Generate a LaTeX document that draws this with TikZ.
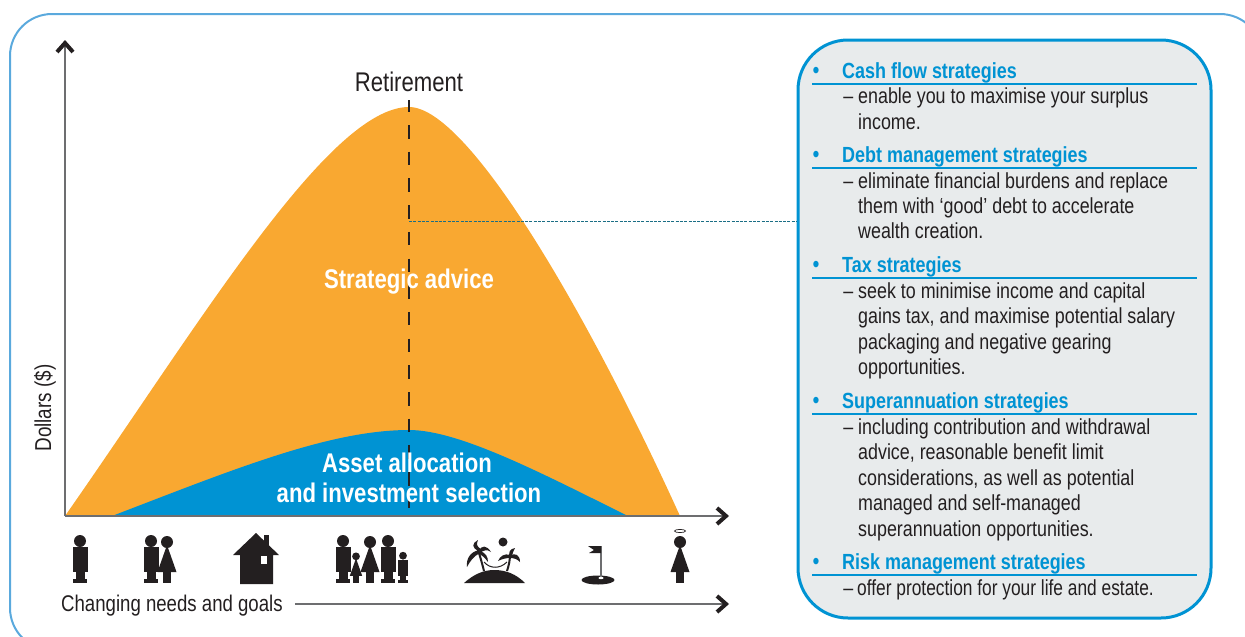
\documentclass[tikz,border=0pt]{standalone}
\usepackage{fontspec}
\setmainfont[FakeStretch=0.82]{Liberation Sans}
\usetikzlibrary{arrows.meta}
\definecolor{orangefill}{HTML}{F9A831}
\definecolor{bluefill}{HTML}{0093D3}
\definecolor{framecol}{HTML}{5AA9DD}
\definecolor{panelfill}{HTML}{E8EBEC}
\definecolor{ink}{HTML}{231F20}
\definecolor{axisgrey}{HTML}{6D6E70}
\definecolor{tealdash}{HTML}{1B6E85}
\tikzset{
  axisline/.style={draw=axisgrey,line width=1.6pt,-{Straight Barb[color=ink,length=9pt,width=16pt,line width=4pt]}},
  bodytxt/.style={anchor=north west,inner sep=0pt,align=left,font=\fontsize{21.8}{25.5}\selectfont,text=ink},
  headtxt/.style={anchor=base west,inner sep=0pt,font=\fontsize{21.9}{25}\selectfont\bfseries,text=bluefill},
  bullettxt/.style={anchor=center,inner sep=0pt,font=\fontsize{24}{25}\selectfont,text=bluefill},
  rulecol/.style={draw=bluefill,line width=1.6pt},
  labeltxt/.style={inner sep=0pt,font=\fontsize{27}{30}\selectfont,text=ink},
  whitetxt/.style={inner sep=0pt,font=\fontsize{27}{30}\selectfont\bfseries,text=white},
  malefig/.pic={
    \fill[ink] (0,-42) circle (6);
    \fill[ink] (-7.5,-36) rectangle (7.5,-11);
    \fill[ink] (-4.5,-11) rectangle (4.5,-4);
    \fill[ink] (-7,-4) rectangle (7,0);
  },
  femalefig/.pic={
    \fill[ink] (0,-41) circle (6);
    \fill[ink] (0,-38) -- (9.5,-11) -- (-9.5,-11) -- cycle;
    \fill[ink] (-4,-11) rectangle (4,0);
  }
}
\begin{document}
\begin{tikzpicture}[x=1pt,y=-1pt]
\useasboundingbox (0,0) rectangle (1245,637);
\begin{scope}
\clip (0,0) rectangle (1245,637);
\draw[framecol,line width=2pt,rounded corners=42pt] (10,14) rectangle (1262,650);
\end{scope}
% curves
\fill[orangefill] (65,516) .. controls (200,323) and (329,107) .. (409,107) .. controls (469,107) and (590,318) .. (680,516) -- cycle;
\fill[bluefill] (112,516) .. controls (232,470) and (329,430) .. (409,430) .. controls (460,430) and (545,475) .. (628,516) -- cycle;
% axes
\coordinate (origin) at (65,516);
\coordinate (xend) at (729,516);
\coordinate (yend) at (65,40);
\draw[axisline] (origin) -- (xend);
\draw[axisline] (origin) -- (yend);
% panel
\node[draw=bluefill,fill=panelfill,line width=3pt,rounded corners=50pt,minimum width=413pt,minimum height=578pt,inner sep=0pt] (panel) at (1004.5,329) {};
% retirement
\node[labeltxt] (retire) at (409,82) {Retirement};
\coordinate (peak) at (409,100);
\coordinate (dashend) at (409,508);
\draw[ink,line width=1.1pt,dash pattern=on 13.5pt off 13.2pt,dash phase=1.7pt] (peak) -- (dashend);
\coordinate (branch) at (409,221);
\coordinate (panelhit) at (panel.west |- branch);
\draw[tealdash,line width=1pt,dash pattern=on 3pt off 1.3pt] (branch) -- (panelhit);
\node[whitetxt] (strategic) at (409,281.5) {Strategic advice};
\node[whitetxt] (assetone) at (407,463) {Asset allocation};
\node[whitetxt] (assettwo) at (409,493) {and investment selection};
\node[labeltxt,rotate=90,font=\fontsize{23}{26}\selectfont] (dollars) at (45,408) {Dollars (\$)};
% icons
\pic (m1) at (80,583) {malefig};
\pic (m2) at (151,583) {malefig};
\pic (f2) at (167,583) {femalefig};
\fill[ink] (256,533) -- (279,555) -- (273,555) -- (273,584) -- (240,584) -- (240,555) -- (233,555) -- cycle;
\fill[ink] (264,535) rectangle (269,550);
\fill[white] (260.5,556) rectangle (267,564);
\pic (m3) at (343,583) {malefig};
\pic[scale=.65] (c1) at (356,583) {femalefig};
\pic (f3) at (370,583) {femalefig};
\pic (m4) at (388,583) {malefig};
\pic[scale=.65] (c2) at (403,583) {malefig};
% island
\fill[ink] (464,583) .. controls (474,574) and (484,570) .. (494,570) .. controls (506,570) and (516,574) .. (525,583) -- cycle;
\fill[ink] (503,542) circle (4.5);
\draw[ink,line width=2pt] (484,571) .. controls (482,563) and (480,556) .. (478,550);
\draw[ink,line width=2pt] (507,571) .. controls (509,565) and (510,560) .. (510,554);
\draw[ink,line width=1pt] (484,562) .. controls (490,569) and (500,569) .. (507,562);
\fill[ink] (479,551) .. controls (471,548) and (472,543) .. (478,540) .. controls (476,544) and (477,547) .. (481,549) -- cycle;
\fill[ink] (479,551) .. controls (481,545) and (487,545) .. (491,552) .. controls (487,549) and (484,550) .. (480,553) -- cycle;
\fill[ink] (479,550) .. controls (470,552) and (466,559) .. (467,567) .. controls (470,561) and (474,556) .. (480,553) -- cycle;
\fill[ink] (480,551) .. controls (486,553) and (488,557) .. (488,562) .. controls (485,558) and (482,555) .. (479,554) -- cycle;
\fill[ink] (510,556) .. controls (508,552) and (510,549) .. (515,548) .. controls (513,551) and (513,553) .. (512,556) -- cycle;
\fill[ink] (510,556) .. controls (515,552) and (520,555) .. (520,562) .. controls (517,559) and (514,558) .. (510,558) -- cycle;
\fill[ink] (510,555) .. controls (505,553) and (500,556) .. (498,561) .. controls (502,559) and (506,558) .. (510,558) -- cycle;
% golf
\fill[ink] (598,580) ellipse (16.5 and 4.5);
\draw[axisgrey,line width=1.2pt] (601,578) -- (601,546);
\fill[ink] (601,546) -- (588,546) -- (594,550) -- (589,553) -- (601,553) -- cycle;
\fill[white] (601,578) ellipse (2.5 and 1.2);
% angel
\pic (f4) at (680,583) {femalefig};
\draw[ink,line width=.7pt] (680,531) ellipse (5.5 and 1.6);
% lower axis
\node[labeltxt,anchor=base west,font=\fontsize{22.7}{26}\selectfont] (needs) at (61,611) {Changing needs and goals};
\coordinate (lowend) at (729,604);
\draw[axisline] (needs.east |- lowend) ++(12,0) coordinate (lowstart) -- (lowend);
% panel text
\node[bullettxt] (b1) at (816,73) {•};
\node[headtxt] (h1) at (842,78) {Cash flow strategies};
\draw[rulecol] (812,84) -- (1197,84);
\node[bodytxt] (t1) at (858,88) {\llap{–\hspace{5pt}}enable you to maximise your surplus\\income.};
\node[bullettxt] (b2) at (816,157) {•};
\node[headtxt] (h2) at (842,162) {Debt management strategies};
\draw[rulecol] (812,168) -- (1197,168);
\node[bodytxt] (t2) at (858,172) {\llap{–\hspace{5pt}}eliminate financial burdens and replace\\them with ‘good’ debt to accelerate\\wealth creation.};
\node[bullettxt] (b3) at (816,267) {•};
\node[headtxt] (h3) at (842,272) {Tax strategies};
\draw[rulecol] (812,278) -- (1197,278);
\node[bodytxt] (t3) at (858,282) {\llap{–\hspace{5pt}}seek to minimise income and capital\\gains tax, and maximise potential salary\\packaging and negative gearing\\opportunities.};
\node[bullettxt] (b4) at (816,403) {•};
\node[headtxt] (h4) at (842,408) {Superannuation strategies};
\draw[rulecol] (812,414) -- (1197,414);
\node[bodytxt] (t4) at (858,418) {\llap{–\hspace{5pt}}including contribution and withdrawal\\advice, reasonable benefit limit\\considerations, as well as potential\\managed and self-managed\\superannuation opportunities.};
\node[bullettxt] (b5) at (816,564) {•};
\node[headtxt] (h5) at (842,569) {Risk management strategies};
\draw[rulecol] (812,575) -- (1197,575);
\node[bodytxt] (t5) at (857,579) {\llap{–\hspace{4pt}}\scalebox{.97}[1]{offer protection for your life and estate.}};
\end{tikzpicture}
\end{document}
